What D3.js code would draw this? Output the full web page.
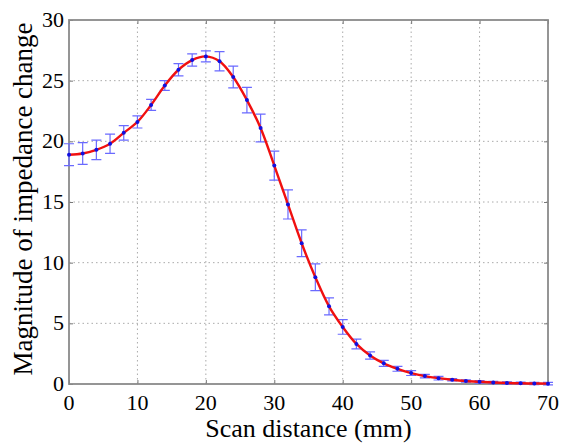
<!DOCTYPE html>
<html>
<head>
<meta charset="utf-8">
<script src="https://cdn.jsdelivr.net/npm/d3@7"></script>
</head>
<body style="margin:0">
<svg id="chart" width="561" height="445"></svg>
<script>
var width = 561;
var height = 445;
var serif = "Liberation Serif";

// Measured data: scan distance (mm), impedance change magnitude, error
var scanDistance = [0, 2, 4, 6, 8, 10, 12, 14, 16, 18, 20, 22, 24, 26, 28, 30, 32, 34,
                    36, 38, 40, 42, 44, 46, 48, 50, 52, 54, 56, 58, 60, 62, 64, 66, 68, 70];
var magnitude = [18.9, 19.0, 19.3, 19.8, 20.7, 21.6, 23.0, 24.6, 25.9, 26.7, 27.0, 26.6,
                 25.3, 23.4, 21.1, 18.0, 14.8, 11.6, 8.8, 6.4, 4.7, 3.3, 2.35, 1.7,
                 1.25, 0.9, 0.65, 0.48, 0.35, 0.25, 0.18, 0.12, 0.08, 0.06, 0.04, 0.03];
var errorSize = [0.9, 0.9, 0.8, 0.8, 0.6, 0.5, 0.45, 0.4, 0.5, 0.5, 0.45, 0.8,
                 0.9, 1.05, 1.15, 1.2, 1.2, 1.1, 1.1, 0.7, 0.6, 0.4, 0.3, 0.25,
                 0.2, 0.2, 0.15, 0.15, 0.1, 0.1, 0.1, 0.1, 0.1, 0.1, 0.1, 0.1];

var xTicks = [0, 10, 20, 30, 40, 50, 60, 70];
var yTicks = [0, 5, 10, 15, 20, 25, 30];

var data = scanDistance.map((d, i) => ({x: d, y: magnitude[i], e: errorSize[i]}));

var margin = {left: 69, right: 13, top: 20, bottom: 61};

var svg = d3.select("#chart");

var x = d3.scaleLinear().domain([0, 70]).range([margin.left, width - margin.right]);
var y = d3.scaleLinear().domain([0, 30]).range([height - margin.bottom, margin.top]);

// Dotted grid
svg.append("g")
  .selectAll("line")
  .data(xTicks.slice(1, -1))
  .enter().append("line")
    .attr("x1", d => x(d)).attr("x2", d => x(d))
    .attr("y1", y(0)).attr("y2", y(30))
    .attr("stroke", "#aaa").attr("stroke-width", 1)
    .attr("stroke-dasharray", "1.5,3");

svg.append("g")
  .selectAll("line")
  .data(yTicks.slice(1, -1))
  .enter().append("line")
    .attr("x1", x(0)).attr("x2", x(70))
    .attr("y1", d => y(d)).attr("y2", d => y(d))
    .attr("stroke", "#aaa").attr("stroke-width", 1)
    .attr("stroke-dasharray", "1.5,3");

// Axes (ticks point inward like MATLAB); labels drawn as plain text below
svg.append("g")
    .attr("transform", "translate(0," + y(0) + ")")
    .call(d3.axisBottom(x).tickValues(xTicks).tickSizeInner(-4).tickSizeOuter(0).tickFormat(""))
    .call(g => g.select(".domain").remove())
    .call(g => g.selectAll("line").attr("stroke", "#777"));

svg.append("g")
    .attr("transform", "translate(" + x(0) + ",0)")
    .call(d3.axisLeft(y).tickValues(yTicks).tickSizeInner(-4).tickSizeOuter(0).tickFormat(""))
    .call(g => g.select(".domain").remove())
    .call(g => g.selectAll("line").attr("stroke", "#777"));

svg.append("g")
    .attr("transform", "translate(" + x(70) + ",0)")
    .call(d3.axisRight(y).tickValues(yTicks).tickSizeInner(-4).tickSizeOuter(0).tickFormat(""))
    .call(g => g.select(".domain").remove())
    .call(g => g.selectAll("line").attr("stroke", "#777"));

svg.append("g")
    .attr("transform", "translate(0," + y(30) + ")")
    .call(d3.axisTop(x).tickValues(xTicks).tickSizeInner(-4).tickSizeOuter(0).tickFormat(""))
    .call(g => g.select(".domain").remove())
    .call(g => g.selectAll("line").attr("stroke", "#777"));

// Tick labels
svg.selectAll("text.xtick")
  .data(xTicks)
  .enter().append("text")
    .attr("class", "xtick")
    .attr("x", d => x(d))
    .attr("y", y(0) + 26)
    .style("font-family", "'" + serif + "'")
    .attr("font-size", 22)
    .attr("text-anchor", "middle")
    .text(d => d);

svg.selectAll("text.ytick")
  .data(yTicks)
  .enter().append("text")
    .attr("class", "ytick")
    .attr("x", x(0) - 5)
    .attr("y", d => y(d) + 7)
    .style("font-family", "'" + serif + "'")
    .attr("font-size", 22)
    .attr("text-anchor", "end")
    .text(d => d);

// Box
svg.append("rect")
    .attr("x", x(0)).attr("y", y(30))
    .attr("width", x(70) - x(0)).attr("height", y(0) - y(30))
    .attr("fill", "none").attr("stroke", "#8a8a8a").attr("stroke-width", 1.8);

// Error bars
var capHalf = 5;
svg.append("g")
    .attr("stroke", "#6a6aff").attr("stroke-width", 1.2).attr("fill", "none")
  .selectAll("path")
  .data(data)
  .enter().append("path")
    .attr("d", d => {
      var p = d3.path();
      var cx = x(d.x), top = y(d.y + d.e), bot = y(d.y - d.e);
      p.moveTo(cx, top); p.lineTo(cx, bot);
      p.moveTo(cx - capHalf, top); p.lineTo(cx + capHalf, top);
      p.moveTo(cx - capHalf, bot); p.lineTo(cx + capHalf, bot);
      return p;
    });

// Red fit curve
var line = d3.line()
    .x(d => x(d.x))
    .y(d => y(d.y))
    .curve(d3.curveCatmullRom);

svg.append("path")
    .datum(data)
    .attr("d", line)
    .attr("fill", "none")
    .attr("stroke", "#f01010")
    .attr("stroke-width", 2.4);

// Blue data markers
svg.append("g")
  .selectAll("circle")
  .data(data)
  .enter().append("circle")
    .attr("cx", d => x(d.x))
    .attr("cy", d => y(d.y))
    .attr("r", 2)
    .attr("fill", "#1010e0");

// Axis labels
svg.append("text")
    .attr("x", (x(0) + x(70)) / 2)
    .attr("y", 437)
    .style("font-family", "'" + serif + "'")
    .attr("font-size", 26)
    .attr("text-anchor", "middle")
    .text("Scan distance (mm)");

svg.append("text")
    .attr("transform", "translate(32," + ((y(0) + y(30)) / 2 - 3) + ") rotate(-90)")
    .style("font-family", "'" + serif + "'")
    .attr("font-size", 27)
    .attr("text-anchor", "middle")
    .text("Magnitude of impedance change");
</script>
</body>
</html>
